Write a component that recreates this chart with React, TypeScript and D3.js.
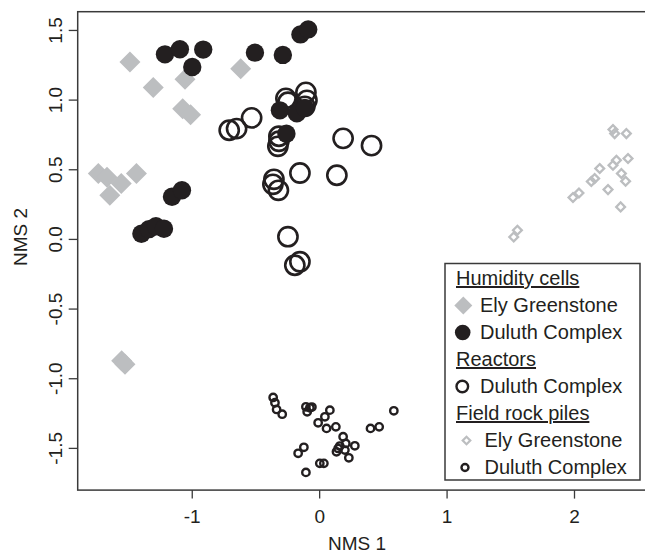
import React, { useRef, useEffect } from "react";
import * as d3 from "d3";

// NMS ordination scores: [NMS 1, NMS 2]
const humidityEly: [number, number][] = [
  [-1.485, 1.27], [-1.302, 1.086], [-1.053, 1.146], [-1.071, 0.935], [-1.009, 0.892],
  [-0.616, 1.222], [-1.733, 0.469], [-1.665, 0.443], [-1.553, 0.397], [-1.434, 0.469],
  [-1.643, 0.313], [-1.55, -0.875], [-1.524, -0.899],
];
const humidityDuluth: [number, number][] = [
  [-1.21, 1.325], [-1.093, 1.361], [-0.91, 1.359], [-0.996, 1.234], [-0.504, 1.337],
  [-0.285, 1.321], [-0.147, 1.468], [-0.086, 1.504], [-0.308, 0.923], [-0.175, 0.902],
  [-0.112, 0.941], [-0.257, 0.755], [-1.395, 0.037], [-1.336, 0.07], [-1.281, 0.091],
  [-1.218, 0.073], [-1.155, 0.303], [-1.077, 0.349],
];
const reactorsDuluth: [number, number][] = [
  [-0.706, 0.78], [-0.648, 0.792], [-0.53, 0.869], [-0.316, 0.737], [-0.316, 0.701],
  [-0.324, 0.665], [-0.261, 1.009], [-0.245, 0.981], [-0.104, 1.052], [-0.096, 0.995],
  [-0.112, 0.952], [-0.355, 0.428], [-0.363, 0.392], [-0.32, 0.349], [-0.151, 0.473],
  [0.139, 0.457], [0.188, 0.722], [0.411, 0.67], [-0.245, 0.016], [-0.151, -0.164],
  [-0.191, -0.189],
];
const fieldEly: [number, number][] = [
  [2.306, 0.785], [2.319, 0.756], [2.411, 0.756], [2.333, 0.565], [2.306, 0.529],
  [2.424, 0.577], [2.202, 0.505], [2.162, 0.433], [2.136, 0.412], [2.372, 0.469],
  [2.405, 0.414], [2.267, 0.354], [2.366, 0.23], [1.992, 0.297], [2.039, 0.33],
  [1.527, 0.014], [1.556, 0.062],
];
const fieldDuluth: [number, number][] = [
  [-0.361, -1.138], [-0.347, -1.176], [-0.334, -1.224], [-0.29, -1.258], [-0.104, -1.205],
  [-0.073, -1.212], [-0.094, -1.241], [-0.057, -1.207], [0.084, -1.229], [0.045, -1.277],
  [-0.008, -1.32], [0.058, -1.36], [0.131, -1.349], [0.188, -1.42], [0.162, -1.487],
  [0.209, -1.468], [0.136, -1.528], [0.202, -1.516], [0.149, -1.504], [0.28, -1.485],
  [0.233, -1.571], [0.403, -1.36], [0.471, -1.349], [0.586, -1.234], [-0.12, -1.496],
  [-0.165, -1.539], [0.005, -1.611], [0.037, -1.611], [-0.104, -1.676],
];

const xTicks = [-1, 0, 1, 2];
const yTicks = [-1.5, -1.0, -0.5, 0.0, 0.5, 1.0, 1.5];

const GREY = "#bcbec0";
const INK = "#231f20";
const FONT = "'Liberation Sans', Arial, sans-serif";

export default function App() {
  const ref = useRef<SVGSVGElement>(null);

  useEffect(() => {
    if (!ref.current) return;
    const width = 645, height = 553;
    const svg = d3.select(ref.current);
    svg.selectAll("*").remove();
    svg.attr("width", width).attr("height", height);

    const x = d3.scaleLinear().domain([-1.895, 2.62]).range([77.7, 653]);
    const y = d3.scaleLinear().domain([-1.803, 1.631]).range([490.1, 11.7]);

    const diamond = (r: number) => d3.symbol(d3.symbolSquare, 2 * r * r)();
    // plain hyphen for negatives, as in the source figure
    const hy = (f: (n: number) => string) => (d: any) => f(+d).replace("\u2212", "-");

    // frame (right side falls outside the picture)
    svg.append("rect")
      .attr("x", x.range()[0]).attr("y", y.range()[1])
      .attr("width", x.range()[1] - x.range()[0])
      .attr("height", y.range()[0] - y.range()[1])
      .attr("fill", "none").attr("stroke", "#3a3a3a").attr("stroke-width", 1.5);

    // x axis
    const xg = svg.append("g").attr("transform", `translate(0,${y.range()[0]})`)
      .call(d3.axisBottom(x).tickValues(xTicks).tickSize(8.5).tickFormat(hy(d3.format("d"))));
    xg.select(".domain").remove();
    xg.selectAll(".tick line").attr("stroke", "#3a3a3a").attr("stroke-width", 1.3);
    xg.selectAll(".tick text").attr("fill", INK).attr("font-size", 19).attr("font-family", FONT)
      .attr("dy", null).attr("y", 33);

    // y axis
    const yg = svg.append("g").attr("transform", `translate(${x.range()[0]},0)`)
      .call(d3.axisLeft(y).tickValues(yTicks).tickSize(9).tickFormat(hy(d3.format(".1f"))));
    yg.select(".domain").remove();
    yg.selectAll(".tick line").attr("stroke", "#3a3a3a").attr("stroke-width", 1.3);
    yg.selectAll(".tick text")
      .attr("fill", INK).attr("font-size", 19).attr("font-family", FONT)
      .attr("x", null).attr("dy", null)
      .attr("text-anchor", "middle")
      .attr("transform", "translate(-16,0) rotate(-90)");

    svg.append("text").attr("x", 357).attr("y", 550).attr("text-anchor", "middle")
      .attr("font-size", 19).attr("font-family", FONT).attr("fill", INK).text("NMS 1");
    svg.append("text").attr("transform", "translate(27,237) rotate(-90)").attr("text-anchor", "middle")
      .attr("font-size", 19).attr("font-family", FONT).attr("fill", INK).text("NMS 2");

    // points
    svg.append("g").selectAll("path").data(humidityEly).enter().append("path")
      .attr("d", diamond(10.5))
      .attr("transform", d => `translate(${x(d[0])},${y(d[1])}) rotate(45)`)
      .attr("fill", GREY);
    svg.append("g").selectAll("circle").data(reactorsDuluth).enter().append("circle")
      .attr("cx", d => x(d[0])).attr("cy", d => y(d[1])).attr("r", 9.6)
      .attr("fill", "none").attr("stroke", INK).attr("stroke-width", 2.6);
    svg.append("g").selectAll("circle").data(humidityDuluth).enter().append("circle")
      .attr("cx", d => x(d[0])).attr("cy", d => y(d[1])).attr("r", 9.2)
      .attr("fill", INK);
    svg.append("g").selectAll("path").data(fieldEly).enter().append("path")
      .attr("d", diamond(4.4))
      .attr("transform", d => `translate(${x(d[0])},${y(d[1])}) rotate(45)`)
      .attr("fill", "none").attr("stroke", GREY).attr("stroke-width", 2.3);
    svg.append("g").selectAll("circle").data(fieldDuluth).enter().append("circle")
      .attr("cx", d => x(d[0])).attr("cy", d => y(d[1])).attr("r", 3.7)
      .attr("fill", "none").attr("stroke", INK).attr("stroke-width", 2.4);

    // legend
    const lg = svg.append("g");
    lg.append("rect").attr("x", 445).attr("y", 263.5).attr("width", 195).attr("height", 216.5)
      .attr("fill", "#fff").attr("stroke", "#3a3a3a").attr("stroke-width", 1.5);
    const rows = [
      { label: "Humidity cells", head: true },
      { label: "Ely Greenstone", sym: "bigDiamond" },
      { label: "Duluth Complex", sym: "dot" },
      { label: "Reactors", head: true },
      { label: "Duluth Complex", sym: "ring" },
      { label: "Field rock piles", head: true },
      { label: "Ely Greenstone", sym: "smallDiamond" },
      { label: "Duluth Complex", sym: "smallRing" },
    ];
    rows.forEach((r, i) => {
      const by = 285 + i * 27;
      const small = r.sym === "smallDiamond" || r.sym === "smallRing";
      lg.append("text")
        .attr("x", r.head ? 456 : small ? 484.5 : 480)
        .attr("y", by)
        .attr("font-size", 20).attr("font-family", FONT).attr("fill", INK)
        .attr("text-decoration", r.head ? "underline" : null)
        .text(r.label);
      const cy = by - 6.5;
      if (r.sym === "bigDiamond") {
        lg.append("path").attr("d", diamond(9)).attr("transform", `translate(463.3,${cy}) rotate(45)`).attr("fill", GREY);
      } else if (r.sym === "dot") {
        lg.append("circle").attr("cx", 462.7).attr("cy", cy).attr("r", 7.8).attr("fill", INK);
      } else if (r.sym === "ring") {
        lg.append("circle").attr("cx", 462.3).attr("cy", cy).attr("r", 5.8).attr("fill", "none")
          .attr("stroke", INK).attr("stroke-width", 2.4);
      } else if (r.sym === "smallDiamond") {
        lg.append("path").attr("d", diamond(3.8)).attr("transform", `translate(466.5,${cy}) rotate(45)`)
          .attr("fill", "none").attr("stroke", GREY).attr("stroke-width", 2.2);
      } else if (r.sym === "smallRing") {
        lg.append("circle").attr("cx", 465).attr("cy", cy).attr("r", 3.5).attr("fill", "none")
          .attr("stroke", INK).attr("stroke-width", 2.4);
      }
    });
  }, []);

  return <svg ref={ref} style={{ position: "absolute", left: 0, top: 0, display: "block", background: "#fff" }} />;
}
